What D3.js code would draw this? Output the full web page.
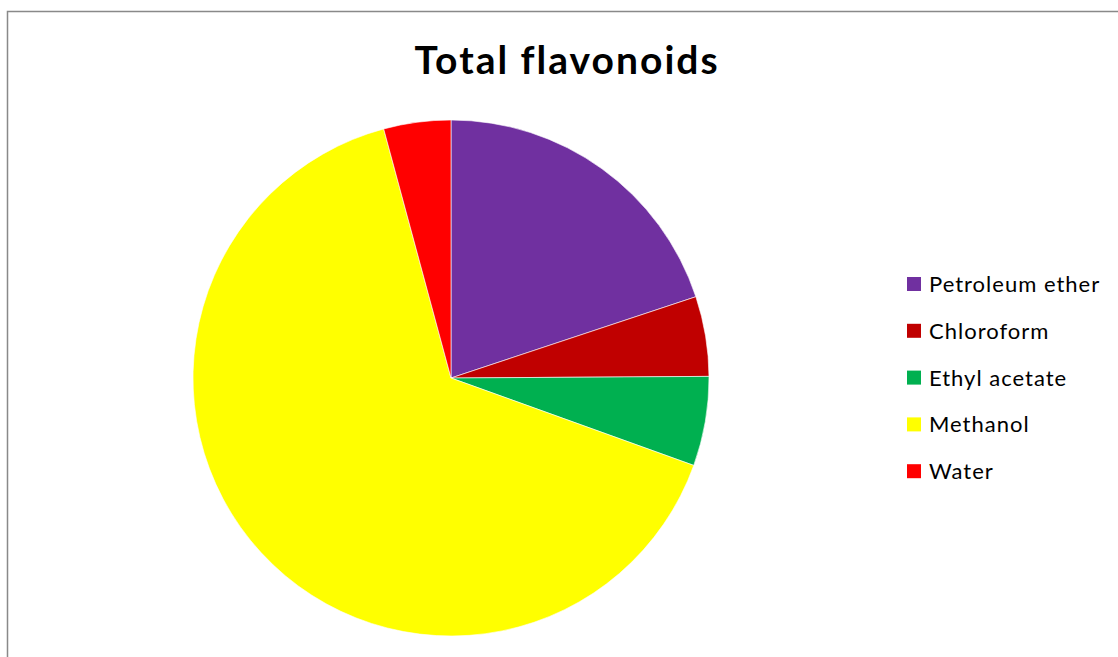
<!DOCTYPE html>
<html>
<head>
<meta charset="utf-8">
<script src="https://cdn.jsdelivr.net/npm/d3@7"></script>
<style>
  body { margin: 0; background: #fff; }
  svg { display: block; }
</style>
</head>
<body>
<div id="chart"></div>
<script>
const solvents = ["Petroleum ether", "Chloroform", "Ethyl acetate", "Methanol", "Water"];
const shares = [19.9, 5.0, 5.6, 65.3, 4.2];
const colors = ["#7030a0", "#c00000", "#00b050", "#ffff00", "#ff0000"];

const data = solvents.map((s, i) => ({ solvent: s, value: shares[i] }));

const width = 1118;
const height = 657;
const cx = 451, cy = 378;
const radius = 258;

const colorScale = d3.scaleOrdinal().domain(solvents).range(colors);

const svg = d3.select("#chart")
    .append("svg")
    .attr("width", width)
    .attr("height", height);

// chart area border
svg.append("rect")
    .attr("x", 7.5)
    .attr("y", 11.5)
    .attr("width", width + 10)
    .attr("height", height + 10)
    .attr("fill", "#fff")
    .attr("stroke", "#898989")
    .attr("stroke-width", 1.5);

svg.append("text")
    .attr("x", 567)
    .attr("y", 74)
    .attr("text-anchor", "middle")
    .style("font-family", "Lato, 'Open Sans', sans-serif")
    .style("font-weight", "bold")
    .style("font-size", "39px")
    .style("letter-spacing", "2px")
    .text("Total flavonoids");

const pie = d3.pie().sort(null).value((d) => d.value);
const arc = d3.arc().innerRadius(0).outerRadius(radius);

svg.append("g")
    .attr("transform", `translate(${cx},${cy})`)
    .selectAll("path")
    .data(pie(data))
    .enter()
    .append("path")
    .attr("d", arc)
    .attr("fill", (d) => colorScale(d.data.solvent))
    .attr("stroke", "#fff")
    .attr("stroke-width", 0.6);

const legend = svg.append("g").attr("transform", "translate(907, 284)");

legend.selectAll("rect")
    .data(solvents)
    .enter()
    .append("rect")
    .attr("x", 0)
    .attr("y", (d, i) => i * 46.8 - 7)
    .attr("width", 14)
    .attr("height", 14)
    .attr("fill", (d) => colorScale(d));

legend.selectAll("text")
    .data(solvents)
    .enter()
    .append("text")
    .attr("x", 22)
    .attr("y", (d, i) => i * 46.8 + 8)
    .style("font-family", "Lato, 'Open Sans', sans-serif")
    .style("font-size", "22px")
    .style("letter-spacing", "1px")
    .attr("fill", "#000")
    .text((d) => d);
</script>
</body>
</html>
